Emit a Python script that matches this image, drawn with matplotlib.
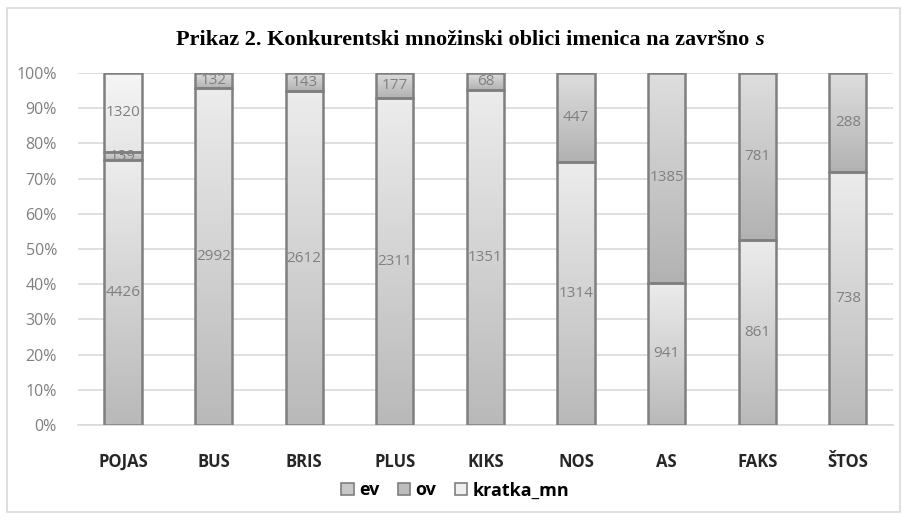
import numpy as np
import matplotlib
matplotlib.use("Agg")
import matplotlib.pyplot as plt
from matplotlib.patches import Patch, Rectangle
from matplotlib.ticker import PercentFormatter
from matplotlib import font_manager

# podaci
kategorije = ["POJAS", "BUS", "BRIS", "PLUS", "KIKS", "NOS", "AS", "FAKS", "ŠTOS"]
ev = [4426, 2992, 2612, 2311, 1351, 1314, 941, 861, 738]
ov = [139, 132, 143, 177, 68, 447, 1385, 781, 288]
kratka_mn = [1320, 0, 0, 0, 0, 0, 0, 0, 0]

serije = [("ev", ev), ("ov", ov), ("kratka_mn", kratka_mn)]
# gradijent (vrh, dno) za svaku seriju
boje = {
    "ev": ("#ececec", "#b9b9b9"),
    "ov": ("#dedede", "#b2b2b2"),
    "kratka_mn": ("#f5f5f5", "#e6e6e6"),
}
legenda_boje = {"ev": "#c8c8c8", "ov": "#bdbdbd", "kratka_mn": "#efefef"}

names = {f.name for f in font_manager.fontManager.ttflist}
sans = "Liberation Sans Narrow" if "Liberation Sans Narrow" in names else "Open Sans"
plt.rcParams["font.family"] = [sans, "DejaVu Sans"]

fig = plt.figure(figsize=(9.07, 5.2), dpi=100)
fig.patches.append(Rectangle((7 / 907, 8 / 520), 893 / 907, 504 / 520,
                             transform=fig.transFigure, fill=False,
                             edgecolor="#d9d9d9", lw=1.2))
ax = fig.add_axes([0.0857, 0.1827, 0.899, 0.677])

x = np.arange(len(kategorije))
ukupno = np.array(ev) + np.array(ov) + np.array(kratka_mn)
sirina = 0.41
dno = np.zeros(len(kategorije))

for ime, vrijednosti in serije:
    udio = np.array(vrijednosti) / ukupno
    top_c, bot_c = boje[ime]
    c1 = np.array(matplotlib.colors.to_rgb(top_c))
    c2 = np.array(matplotlib.colors.to_rgb(bot_c))
    grad = np.linspace(0, 1, 100)[:, None, None]
    img = c1 * (1 - grad) + c2 * grad
    img = np.repeat(img, 2, axis=1)
    for i in range(len(kategorije)):
        if vrijednosti[i] == 0:
            continue
        b0, h = dno[i], udio[i]
        rect = ax.bar(x[i], h, sirina, bottom=b0, facecolor="none",
                      edgecolor="#7f7f7f", linewidth=1.8, zorder=4)[0]
        im = ax.imshow(img, extent=[x[i] - sirina / 2, x[i] + sirina / 2, b0, b0 + h],
                       aspect="auto", origin="upper", zorder=3, interpolation="bilinear")
        im.set_clip_path(rect)
        ax.text(x[i], b0 + h / 2, str(vrijednosti[i]), ha="center", va="center",
                fontsize=11, color="#808080", zorder=5, family="Open Sans")
    dno += udio

ax.set_xlim(-0.5, len(kategorije) - 0.5)
ax.set_ylim(0, 1)
ax.set_yticks(np.arange(0, 1.01, 0.1))
ax.yaxis.set_major_formatter(PercentFormatter(1.0, decimals=0))
ax.grid(axis="y", color="#d9d9d9", linewidth=1.2, zorder=0)
ax.set_axisbelow(True)
for s in ["top", "right", "left"]:
    ax.spines[s].set_visible(False)
ax.spines["bottom"].set_color("#d9d9d9")
ax.spines["bottom"].set_linewidth(1.2)
ax.tick_params(axis="both", length=0)
ax.tick_params(axis="y", labelcolor="#7f7f7f", labelsize=11.5, pad=15)
for t in ax.get_yticklabels():
    t.set_family("Open Sans")
ax.set_xticks(x)
ax.set_xticklabels(kategorije, fontweight="bold", fontsize=12, color="#262626")
ax.tick_params(axis="x", pad=20)
ax.set_xlim(-0.5, len(kategorije) - 0.5)

# naslov: glavni dio + kurzivno s
naslov = fig.text(0.0, 0.923, "Prikaz 2. Konkurentski množinski oblici imenica na završno ",
                  ha="left", va="center", fontsize=16, fontweight="bold",
                  family="Liberation Serif")
s_txt = fig.text(0.0, 0.923, "s", ha="left", va="center", fontsize=16,
                 fontweight="bold", style="italic", family="Liberation Serif")
fig.canvas.draw()
r = fig.canvas.get_renderer()
w1 = naslov.get_window_extent(r).width
w2 = s_txt.get_window_extent(r).width
x0 = (470 - (w1 + w2) / 2) / 907
naslov.set_x(x0)
s_txt.set_x(x0 + w1 / 907)

handles = [Patch(facecolor=legenda_boje[ime], edgecolor="#7f7f7f", linewidth=1.2)
           for ime, _ in serije]
leg = fig.legend(handles, [ime for ime, _ in serije], loc="center",
                 bbox_to_anchor=(0.502, 0.057), ncol=3, frameon=False,
                 handlelength=0.7, handleheight=0.7, handletextpad=0.3,
                 columnspacing=1.0, prop={"weight": "bold", "size": 13})

fig.savefig("out.png", dpi=100)
